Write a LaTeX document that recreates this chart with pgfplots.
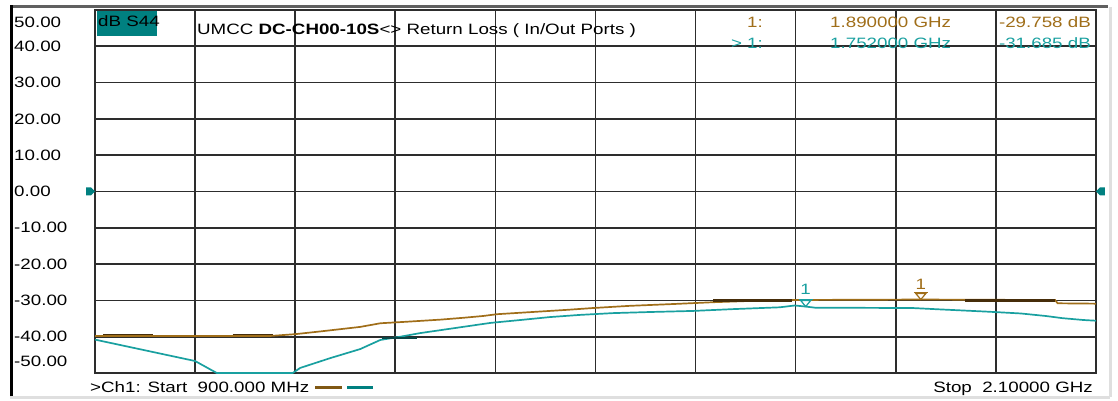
\documentclass[border=0pt]{standalone}
\usepackage{pgfplots}
\pgfplotsset{compat=1.18}
\usepackage{fontspec}
\setmainfont[FakeStretch=1.25]{Liberation Sans}
\definecolor{trbrown}{RGB}{160,110,25}
\definecolor{trteal}{RGB}{25,160,160}
\definecolor{hdteal}{RGB}{0,128,128}
\definecolor{gridc}{RGB}{45,45,45}
\definecolor{limbrown}{RGB}{70,45,10}
\definecolor{limteal}{RGB}{10,70,70}
\pgfdeclareplotmark{vnamark}{%
  \pgfpathmoveto{\pgfqpoint{0pt}{0pt}}%
  \pgfpathlineto{\pgfqpoint{-5pt}{6pt}}%
  \pgfpathlineto{\pgfqpoint{5pt}{6pt}}%
  \pgfpathclose\pgfusepathqstroke
  \pgfpathmoveto{\pgfqpoint{-7pt}{7pt}}%
  \pgfpathlineto{\pgfqpoint{7pt}{7pt}}%
  \pgfusepathqstroke}
\pgfdeclareplotmark{refL}{%
  \pgfpathmoveto{\pgfqpoint{0pt}{0pt}}%
  \pgfpathlineto{\pgfqpoint{-4pt}{4pt}}%
  \pgfpathlineto{\pgfqpoint{-9pt}{4pt}}%
  \pgfpathlineto{\pgfqpoint{-9pt}{-4pt}}%
  \pgfpathlineto{\pgfqpoint{-4pt}{-4pt}}%
  \pgfpathclose\pgfusepathqfill}
\pgfdeclareplotmark{refR}{%
  \pgfpathmoveto{\pgfqpoint{0pt}{0pt}}%
  \pgfpathlineto{\pgfqpoint{4pt}{4pt}}%
  \pgfpathlineto{\pgfqpoint{9pt}{4pt}}%
  \pgfpathlineto{\pgfqpoint{9pt}{-4pt}}%
  \pgfpathlineto{\pgfqpoint{4pt}{-4pt}}%
  \pgfpathclose\pgfusepathqfill}
\newcommand{\vf}{\fontsize{15}{18}\selectfont}
\begin{document}
\begin{tikzpicture}[x=1pt,y=1pt]
\useasboundingbox (0,0) rectangle (1118,400);
\fill[white] (0,0) rectangle (1118,400);
\coordinate (axsw) at (95,27);
\begin{axis}[at={(axsw)}, anchor=south west, scale only axis,
  width=1001pt, height=363pt,
  xmin=900, xmax=2100, ymin=-50, ymax=50,
  xtick={900,1020,1140,1260,1380,1500,1620,1740,1860,1980,2100},
  xticklabels={},
  ytick={-50,-40,-30,-20,-10,0,10,20,30,40,50},
  yticklabels={,-40.00,-30.00,-20.00,-10.00,0.00,10.00,20.00,30.00,40.00,},
  yticklabel style={anchor=west, xshift=-81pt, inner sep=0pt, font=\vf},
  major tick length=0pt,
  grid=major,
  grid style={gridc, line width=1.6pt},
  axis line style={gridc, line width=1.8pt},
  clip=false]
% limit-line segments
\addplot[limbrown, line width=2.6pt] coordinates {(910,-39.5) (970,-39.5)};
\addplot[limbrown, line width=2.6pt] coordinates {(1065,-39.5) (1113,-39.5)};
% brown trace
\addplot[trbrown, line width=1.7pt] coordinates {
(900,-39.8) (1110,-39.8) (1140,-39.3) (1172,-38.5) (1218,-37.3) (1242,-36.3)
(1272,-35.9) (1314,-35.3) (1341,-34.8) (1365,-34.3) (1382,-33.8) (1424,-33.2)
(1466,-32.6) (1497,-32.1) (1541,-31.5) (1593,-31.0) (1641,-30.5) (1679,-30.2)
(1721,-29.9) (1890,-29.76) (2051,-29.9) (2054,-30.8) (2100,-30.9)};
% teal trace
\addplot[trteal, line width=1.7pt] coordinates {
(900,-40.8) (1020,-46.7) (1046,-50) (1137,-50) (1146,-48.6) (1182,-45.9)
(1218,-43.4) (1242,-40.9) (1266,-40.0) (1290,-39.0) (1314,-38.2) (1341,-37.3)
(1374,-36.2) (1410,-35.4) (1445,-34.6) (1481,-34.0) (1521,-33.5) (1565,-33.2)
(1617,-32.9) (1665,-32.4) (1721,-31.9) (1739,-31.4) (1752,-31.7) (1763,-32.0)
(1880,-32.1) (1915,-32.5) (1970,-33.1) (2010,-33.6) (2040,-34.3) (2060,-34.9)
(2085,-35.4) (2100,-35.6)};
\addplot[limteal, line width=2.4pt] coordinates {(1244,-40.3) (1286,-40.3)};
\addplot[limbrown, line width=2.6pt] coordinates {(1641,-30.0) (1736,-30.0)};
\addplot[limbrown, line width=2.6pt] coordinates {(1943,-30.0) (2051,-30.0)};
% markers
\addplot[trteal, line width=1.2pt, only marks, mark=vnamark] coordinates {(1752,-31.685)};
\addplot[trbrown, line width=1.2pt, only marks, mark=vnamark] coordinates {(1890,-29.758)};
\node[trteal, font=\vf, inner sep=0pt] at (axis cs:1752,-27.0) {1};
\node[trbrown, font=\vf, inner sep=0pt] at (axis cs:1890,-25.6) {1};
% reference-level markers
\addplot[hdteal, only marks, mark=refL] coordinates {(900,0)};
\addplot[hdteal, only marks, mark=refR] coordinates {(2100,0)};
\end{axis}
% y labels at the ends
\node[anchor=west, inner sep=0pt, font=\vf] at (14,378) {50.00};
\node[anchor=west, inner sep=0pt, font=\vf] at (14,39) {-50.00};
% window frame
\draw[gray!25, line width=3pt] (1110,3) -- (1110,393);
\draw[gray!25, line width=3pt] (10,2.5) -- (1110,2.5);
\draw[gray!75!black, line width=3pt] (10,393.5) -- (1108,393.5);
\draw[black, line width=2.6pt] (11.5,4) -- (11.5,395);
% header
\fill[hdteal] (97,364) rectangle (157,389);
\node[anchor=base west, inner sep=0pt, font=\vf] at (98,373) {dB S44};
\node[anchor=base west, inner sep=0pt, font=\vf] at (197,365) {UMCC \textbf{DC-CH00-10S}<> Return Loss ( In/Out Ports )};
\node[anchor=base east, inner sep=0pt, font=\vf, text=trbrown] at (763,372) {1:};
\node[anchor=base west, inner sep=0pt, font=\vf, text=trbrown] at (830,372) {1.890000 GHz};
\node[anchor=base east, inner sep=0pt, font=\vf, text=trbrown] at (1091,372) {-29.758 dB};
\node[anchor=base east, inner sep=0pt, font=\vf, text=trteal] at (763,352) {> 1:};
\node[anchor=base west, inner sep=0pt, font=\vf, text=trteal] at (830,352) {1.752000 GHz};
\node[anchor=base east, inner sep=0pt, font=\vf, text=trteal] at (1091,352) {-31.685 dB};
% footer
\node[anchor=base west, inner sep=0pt, font=\vf] at (90,8) {>Ch1: Start \ 900.000 MHz};
\draw[trbrown!80!black, line width=3pt] (315,13) -- (342,13);
\draw[hdteal, line width=3pt] (347,13) -- (373,13);
\node[anchor=base east, inner sep=0pt, font=\vf] at (1093,8) {Stop \ 2.10000 GHz};
\end{tikzpicture}
\end{document}
